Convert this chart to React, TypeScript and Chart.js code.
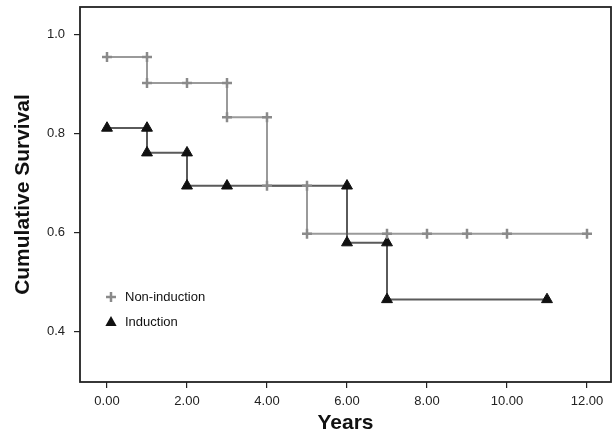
import React, { useEffect, useRef } from "react";
import { Chart, registerables } from "chart.js";

Chart.register(...registerables);

// Kaplan-Meier step data (year of event, survival after event)
const nonInductionEventYears = [0, 1, 3, 4, 5, 12];
const nonInductionSurvival = [0.955, 0.902, 0.833, 0.694, 0.597, 0.597];
const inductionEventYears = [0, 1, 2, 6, 7, 11];
const inductionSurvival = [0.811, 0.761, 0.694, 0.579, 0.464, 0.464];

// Marker positions
const nonInductionMarkYears = [0, 1, 1, 2, 3, 3, 4, 4, 5, 5, 7, 8, 9, 10, 12];
const nonInductionMarkSurvival = [0.955, 0.955, 0.902, 0.902, 0.902, 0.833, 0.833, 0.694, 0.694, 0.597, 0.597, 0.597, 0.597, 0.597, 0.597];
const inductionMarkYears = [0, 1, 1, 2, 2, 3, 6, 6, 7, 7, 11];
const inductionMarkSurvival = [0.811, 0.811, 0.761, 0.761, 0.694, 0.694, 0.694, 0.579, 0.579, 0.464, 0.464];

const xTickValues = [0, 2, 4, 6, 8, 10, 12];
const yTickValues = [0.4, 0.6, 0.8, 1.0];
const seriesLabels = ["Non-induction", "Induction"];

const FONT = "'Liberation Sans', Arial, Helvetica, sans-serif";
const NON_COLOR = "#9a9a9a";
const NON_MARK = "#8a8a8a";
const IND_LINE = "#5a5a5a";
const IND_MARK = "#111111";

const frame = {
  id: "frame",
  afterDatasetsDraw(chart: any) {
    const { ctx, chartArea } = chart;
    ctx.save();
    ctx.strokeStyle = "#222";
    ctx.lineWidth = 1.8;
    ctx.strokeRect(chartArea.left, chartArea.top, chartArea.right - chartArea.left, chartArea.bottom - chartArea.top);
    ctx.restore();
  },
};

const legendPlugin = {
  id: "kmLegend",
  afterDraw(chart: any) {
    const { ctx, chartArea } = chart;
    const mx = chartArea.left + 31;
    const tx = chartArea.left + 45;
    const y1 = chartArea.top + 290;
    const y2 = chartArea.top + 315;
    ctx.save();
    ctx.strokeStyle = NON_MARK;
    ctx.lineWidth = 2.5;
    ctx.beginPath();
    ctx.moveTo(mx - 5, y1);
    ctx.lineTo(mx + 5, y1);
    ctx.moveTo(mx, y1 - 5);
    ctx.lineTo(mx, y1 + 5);
    ctx.stroke();
    ctx.fillStyle = IND_MARK;
    ctx.beginPath();
    ctx.moveTo(mx, y2 - 6);
    ctx.lineTo(mx + 5.6, y2 + 4);
    ctx.lineTo(mx - 5.6, y2 + 4);
    ctx.closePath();
    ctx.fill();
    ctx.fillStyle = "#111";
    ctx.font = `13px ${FONT}`;
    ctx.textBaseline = "middle";
    ctx.textAlign = "left";
    ctx.fillText(seriesLabels[0], tx, y1);
    ctx.fillText(seriesLabels[1], tx, y2);
    ctx.restore();
  },
};

export default function App() {
  const ref = useRef<HTMLCanvasElement>(null);
  useEffect(() => {
    if (!ref.current) return;
    const toPts = (xs: number[], ys: number[]) => xs.map((x, i) => ({ x, y: ys[i] }));
    const chart = new Chart(ref.current, {
      type: "line",
      data: {
        datasets: [
          {
            label: seriesLabels[0] + " marks",
            data: toPts(nonInductionMarkYears, nonInductionMarkSurvival),
            showLine: false,
            pointStyle: "cross",
            pointRadius: 5,
            pointBorderWidth: 2.5,
            pointBorderColor: NON_MARK,
            pointBackgroundColor: NON_MARK,
            order: 0,
          },
          {
            label: seriesLabels[1] + " marks",
            data: toPts(inductionMarkYears, inductionMarkSurvival),
            showLine: false,
            pointStyle: "triangle",
            pointRadius: 6.3,
            pointBorderWidth: 1,
            pointBorderColor: IND_MARK,
            pointBackgroundColor: IND_MARK,
            order: 0,
          },
          {
            label: seriesLabels[0],
            data: toPts(nonInductionEventYears, nonInductionSurvival),
            stepped: "before",
            borderColor: NON_COLOR,
            borderWidth: 2,
            pointRadius: 0,
            fill: false,
            order: 2,
          },
          {
            label: seriesLabels[1],
            data: toPts(inductionEventYears, inductionSurvival),
            stepped: "before",
            borderColor: IND_LINE,
            borderWidth: 2,
            pointRadius: 0,
            fill: false,
            order: 1,
          },
        ] as any,
      },
      options: {
        responsive: false,
        animation: false,
        layout: { autoPadding: false, padding: { top: 7, right: 4, left: 0, bottom: 0 } },
        plugins: { legend: { display: false }, tooltip: { enabled: false } },
        scales: {
          x: {
            type: "linear",
            min: -0.675,
            max: 12.6,
            afterBuildTicks: (s: any) => {
              s.ticks = xTickValues.map((v) => ({ value: v }));
            },
            afterFit: (s: any) => {
              s.height = 57;
              s.paddingLeft = 0;
              s.paddingRight = 0;
            },
            ticks: {
              color: "#222",
              font: { family: FONT, size: 13 },
              padding: 6,
              maxRotation: 0,
              callback: (v: any) => Number(v).toFixed(2),
            },
            grid: { display: true, drawOnChartArea: false, drawTicks: true, tickLength: 6, color: "#222", lineWidth: 1.2 },
            border: { display: false },
            title: {
              display: true,
              text: "Years",
              color: "#111",
              font: { family: FONT, size: 21, weight: "bold" },
              padding: { top: 0, bottom: 3 },
            },
          },
          y: {
            type: "linear",
            min: 0.297,
            max: 1.056,
            afterBuildTicks: (s: any) => {
              s.ticks = yTickValues.map((v) => ({ value: v }));
            },
            afterFit: (s: any) => {
              s.width = 80;
              s.paddingTop = 0;
              s.paddingBottom = 0;
            },
            ticks: {
              color: "#222",
              font: { family: FONT, size: 13 },
              padding: 9,
              callback: (v: any) => Number(v).toFixed(1),
            },
            grid: { display: true, drawOnChartArea: false, drawTicks: true, tickLength: 6, color: "#222", lineWidth: 1.2 },
            border: { display: false },
            title: {
              display: true,
              text: "Cumulative Survival",
              color: "#111",
              font: { family: FONT, size: 21, weight: "bold" },
              padding: { top: 11, bottom: 0 },
            },
          },
        },
      },
      plugins: [frame, legendPlugin],
    });
    return () => chart.destroy();
  }, []);
  return (
    <div style={{ position: "absolute", left: 0, top: 0, width: 615, height: 439, background: "#fff" }}>
      <canvas ref={ref} width={615} height={439} style={{ display: "block" }} />
    </div>
  );
}
